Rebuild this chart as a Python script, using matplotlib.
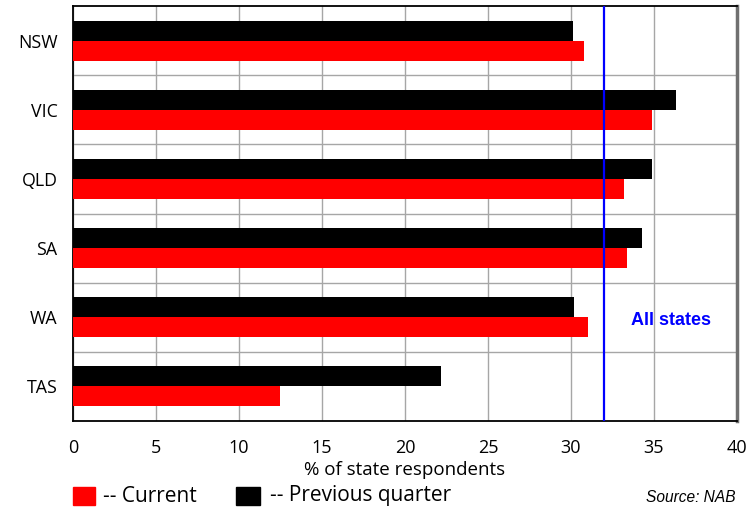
import numpy as np
import matplotlib
matplotlib.use("Agg")
import matplotlib.pyplot as plt
from matplotlib.patches import Rectangle

states = ["NSW", "VIC", "QLD", "SA", "WA", "TAS"]
current = [30.8, 34.9, 33.2, 33.4, 31.0, 12.5]
previous = [30.1, 36.3, 34.9, 34.3, 30.2, 22.2]
all_states = 32.0

fig = plt.figure(figsize=(7.52, 5.09), dpi=100)
ax = fig.add_axes([0.097, 0.173, 0.883, 0.815])

y = np.arange(len(states))
h = 0.29
ax.barh(y - h / 2, previous, height=h, color="black", zorder=3)
ax.barh(y + h / 2, current, height=h, color="#ff0000", zorder=3)
ax.axvline(all_states, color="#0000ff", lw=1.6, zorder=4)
ax.text(all_states + 1.6, 4.05, "All states", color="#0000ff", fontsize=13,
        fontweight="bold", family="Liberation Sans", va="center", ha="left")

ax.set_xlim(0, 40)
ax.set_ylim(len(states) - 0.5, -0.5)
ax.set_xticks(np.arange(0, 41, 5))
ax.set_yticks(y)
ax.set_yticklabels(states)
ax.set_yticks(np.arange(0.5, len(states) - 0.5, 1), minor=True)
ax.tick_params(axis="y", which="both", length=0, pad=11, labelsize=12.8)
ax.tick_params(axis="x", length=0, pad=13, labelsize=13)
for lab in ax.get_xticklabels() + ax.get_yticklabels():
    lab.set_family("Open Sans")
ax.grid(axis="x", which="major", color="#a6a6a6", lw=1, zorder=0)
ax.grid(axis="y", which="minor", color="#a6a6a6", lw=1, zorder=0)
ax.set_xlabel("% of state respondents", fontsize=13.5, family="Open Sans", labelpad=3)

for side in ["left", "top", "bottom"]:
    ax.spines[side].set_color("black")
    ax.spines[side].set_linewidth(1.3)
ax.spines["right"].set_color("#707070")
ax.spines["right"].set_linewidth(2.5)

# legend row
fig.patches.append(Rectangle((73 / 752, 1 - 505 / 509), 22 / 752, 18 / 509,
                             transform=fig.transFigure, color="#ff0000"))
fig.text(103 / 752, 1 - 496 / 509, "-- Current", fontsize=15, family="Open Sans",
         va="center")
fig.patches.append(Rectangle((236 / 752, 1 - 505 / 509), 24 / 752, 18 / 509,
                             transform=fig.transFigure, color="black"))
fig.text(270 / 752, 1 - 496 / 509, "-- Previous quarter", fontsize=15,
         family="Open Sans", va="center")
fig.text(736 / 752, 1 - 497 / 509, "Source: NAB", fontsize=11.2, style="italic",
         family="Liberation Sans", va="center", ha="right")

fig.savefig("out.png", dpi=100)
